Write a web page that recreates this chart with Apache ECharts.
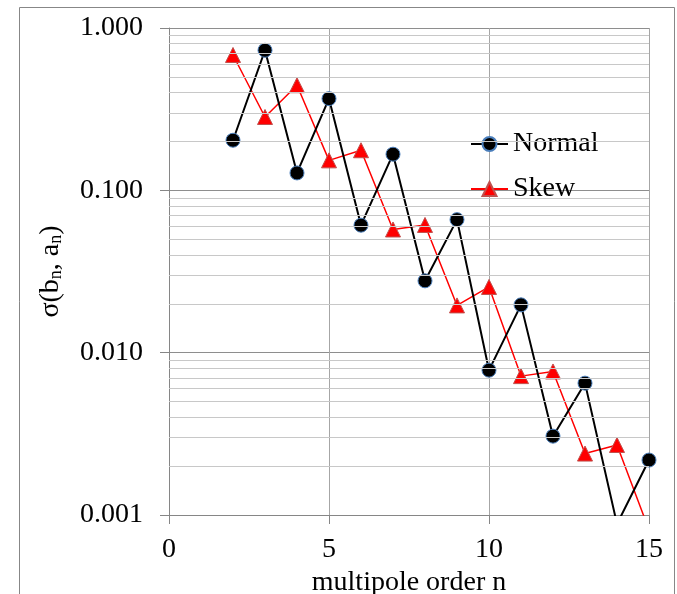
<!DOCTYPE html>
<html>
<head>
<meta charset="utf-8">
<script src="https://cdn.jsdelivr.net/npm/echarts@6/dist/echarts.min.js"></script>
<style>
html,body{margin:0;padding:0;background:#fff;}
#chart{width:677px;height:594px;}
</style>
</head>
<body>
<div id="chart"></div>
<script>
// multipole order n
const nOrder = [2, 3, 4, 5, 6, 7, 8, 9, 10, 11, 12, 13, 14, 15];
// sigma(b_n) - Normal
const normalValues = [0.2035, 0.729, 0.128, 0.367, 0.061, 0.167, 0.0277, 0.066, 0.0078, 0.0197, 0.00306, 0.00649, 0.00088, 0.00218];
// sigma(a_n) - Skew
const skewValues = [0.682, 0.283, 0.444, 0.153, 0.1766, 0.0574, 0.0612, 0.01955, 0.0254, 0.00717, 0.00766, 0.00239, 0.0027, 0.00081];
// axis ticks
const xTicks = [0, 5, 10, 15];
const yDecades = [0.001, 0.01, 0.1, 1];
const minorMultipliers = [2, 3, 4, 5, 6, 7, 8, 9];

const minorGridValues = [];
yDecades.slice(0, -1).forEach(d => minorMultipliers.forEach(m => minorGridValues.push(+(d * m).toPrecision(3))));

const chart = echarts.init(document.getElementById('chart'), null, {renderer: 'canvas'});
const font = 'Liberation Serif';

const option = {
  animation: false,
  textStyle: {fontFamily: font, color: '#000'},
  graphic: [{
    type: 'rect', silent: true, z: -10,
    shape: {x: 19.5, y: 7.5, width: 655, height: 620},
    style: {fill: 'none', stroke: '#878787', lineWidth: 1}
  }],
  grid: {left: 169, right: 28, top: 28, bottom: 79, containLabel: false, outerBoundsMode: 'none'},
  legend: {
    orient: 'vertical',
    left: 470, top: 130, padding: 0,
    itemWidth: 37, itemHeight: 17.5, itemGap: 17,
    data: ['Normal', 'Skew'],
    textStyle: {fontFamily: font, fontSize: 28, color: '#000'}
  },
  xAxis: {
    type: 'value', min: xTicks[0], max: xTicks[xTicks.length - 1], interval: 5,
    name: 'multipole order n', nameLocation: 'middle', nameGap: 51,
    nameTextStyle: {fontFamily: font, fontSize: 28, color: '#000'},
    axisLine: {show: true, lineStyle: {color: '#868686', width: 1}},
    axisTick: {show: true, length: 9, lineStyle: {color: '#868686'}},
    axisLabel: {fontFamily: font, fontSize: 28, color: '#000', margin: 21},
    splitLine: {show: true, lineStyle: {color: '#a6a6a6', width: 1}}
  },
  yAxis: {
    type: 'log', logBase: 10, min: yDecades[0], max: yDecades[yDecades.length - 1],
    name: 'σ(b{sub|n}, a{sub|n})', nameLocation: 'middle', nameRotate: 90, nameGap: 104,
    nameTextStyle: {
      fontFamily: font, fontSize: 28, lineHeight: 28, color: '#000',
      rich: {sub: {fontFamily: font, fontSize: 18, lineHeight: 14, verticalAlign: 'bottom', color: '#000'}}
    },
    axisLine: {show: true, lineStyle: {color: '#868686', width: 1}},
    axisTick: {show: true, length: 9, lineStyle: {color: '#868686'}},
    axisLabel: {fontFamily: font, fontSize: 28, color: '#000', margin: 26,
      formatter: v => Number(v).toFixed(3)},
    splitLine: {show: true, lineStyle: {color: '#8e8e8e', width: 1}}
  },
  series: [
    {
      name: 'minor', type: 'line', data: [], z: 1, silent: true,
      markLine: {
        silent: true, symbol: ['none', 'none'], label: {show: false},
        precision: 6,
        lineStyle: {color: '#c8c8c8', width: 1, type: 'solid'},
        emphasis: {disabled: true},
        data: minorGridValues.map(v => ({yAxis: v}))
      }
    },
    {
      name: 'Normal', type: 'line', z: 3,
      data: nOrder.map((n, i) => [n, normalValues[i]]),
      symbol: 'circle', symbolSize: 14,
      lineStyle: {color: '#000', width: 2},
      itemStyle: {color: '#000', borderColor: '#4a7ebb', borderWidth: 1}
    },
    {
      name: 'Skew', type: 'line', z: 2,
      data: nOrder.map((n, i) => [n, skewValues[i]]),
      symbol: 'triangle', symbolSize: [15, 15],
      lineStyle: {color: '#ff0000', width: 1.5},
      itemStyle: {color: '#ff0000', borderColor: '#c0504d', borderWidth: 1}
    }
  ]
};
chart.setOption(option);
</script>
</body>
</html>
